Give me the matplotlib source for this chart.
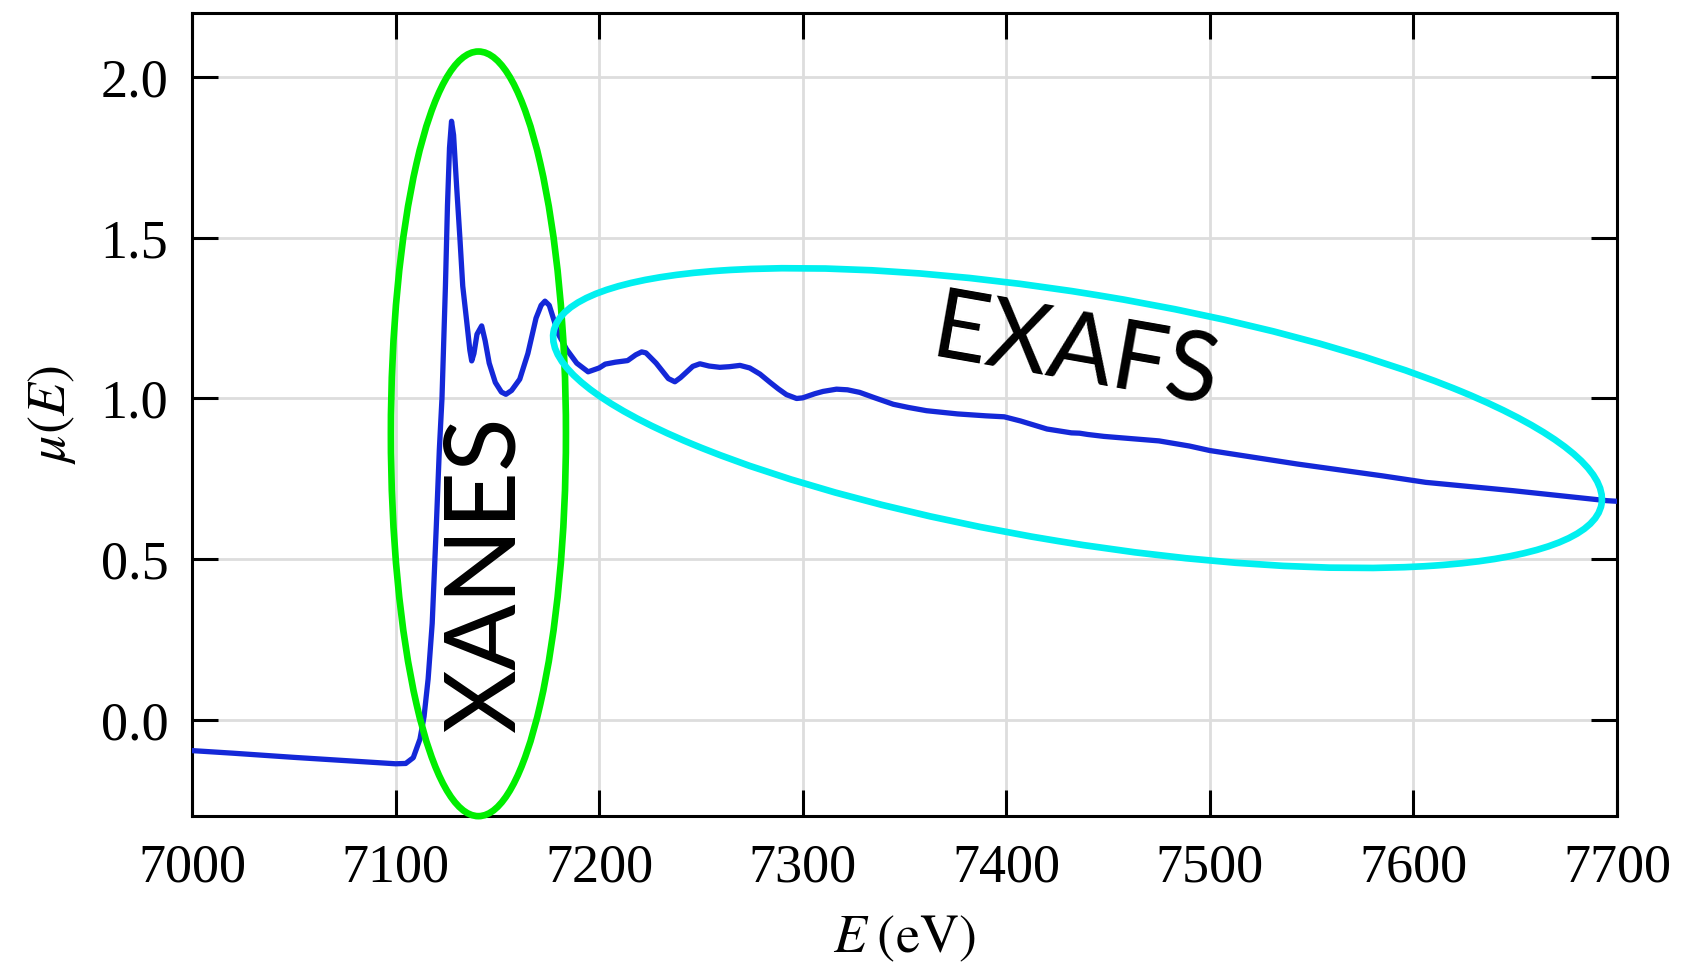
import matplotlib
matplotlib.use("Agg")
import matplotlib.pyplot as plt
from matplotlib.patches import Ellipse
from matplotlib.transforms import IdentityTransform

# XAS spectrum (energy in eV, absorption mu(E))
energy = [7000, 7020, 7050, 7080, 7100, 7105, 7108.7, 7112, 7114, 7116,
          7118, 7120, 7121.5, 7122.8, 7124.5, 7125.5, 7126.5, 7127.5, 7128.5, 7130,
          7131.6, 7133, 7135, 7136.5, 7137.4, 7138.5, 7140, 7142.3, 7144, 7146,
          7149, 7152, 7154.2, 7157, 7161, 7165, 7169, 7171.5, 7173.4, 7175.5,
          7177, 7180, 7184, 7189, 7194.6, 7200, 7203, 7208, 7214, 7218,
          7220.9, 7223, 7228, 7234, 7237.2, 7240, 7246, 7249.5, 7254, 7259.3,
          7264, 7269.2, 7274, 7279, 7284, 7288, 7292, 7297, 7300, 7306,
          7310, 7316.6, 7322, 7328, 7335, 7344.5, 7352, 7360.8, 7376, 7390,
          7399, 7407, 7420, 7432, 7436, 7440, 7448, 7475, 7490, 7500,
          7543, 7585, 7606, 7649, 7695, 7700]
mu = [-0.096, -0.104, -0.117, -0.129, -0.137, -0.136, -0.118, -0.06, 0.01, 0.127,
      0.30, 0.60, 0.84, 1.00, 1.35, 1.60, 1.78, 1.863, 1.82, 1.66,
      1.50, 1.35, 1.237, 1.15, 1.117, 1.14, 1.20, 1.226, 1.18, 1.11,
      1.05, 1.02, 1.013, 1.025, 1.06, 1.14, 1.25, 1.29, 1.303, 1.29,
      1.26, 1.20, 1.153, 1.11, 1.083, 1.095, 1.107, 1.113, 1.118, 1.136,
      1.145, 1.142, 1.11, 1.062, 1.052, 1.065, 1.10, 1.108, 1.101, 1.097,
      1.099, 1.103, 1.095, 1.076, 1.05, 1.03, 1.012, 1.00, 1.002, 1.015,
      1.022, 1.029, 1.027, 1.019, 1.003, 0.982, 0.972, 0.962, 0.952, 0.946,
      0.943, 0.930, 0.905, 0.893, 0.892, 0.888, 0.882, 0.868, 0.852, 0.838,
      0.796, 0.759, 0.739, 0.713, 0.682, 0.680]

x_ticks = [7000, 7100, 7200, 7300, 7400, 7500, 7600, 7700]
y_ticks = [0.0, 0.5, 1.0, 1.5, 2.0]

plt.rcParams['mathtext.fontset'] = 'stix'

fig = plt.figure(figsize=(16.9, 9.67), dpi=100)
ax = fig.add_axes([0.1136, 0.156, 0.8432, 0.8306])

ax.plot(energy, mu, color='#1428d8', lw=3.8, zorder=3,
        solid_joinstyle='round', solid_capstyle='round')

ax.set_xlim(7000, 7700)
ax.set_ylim(-0.3, 2.2)
ax.set_xticks(x_ticks)
ax.set_yticks(y_ticks)
ax.set_yticklabels([f"{v:.1f}" for v in y_ticks])
ax.grid(True, color='#dddddd', lw=2)
ax.set_axisbelow(True)

ax.tick_params(direction='in', length=19, width=2.2, top=True, right=True,
               labelsize=39)
ax.tick_params(axis='x', pad=19)
ax.tick_params(axis='y', pad=17)
for lab in ax.get_xticklabels() + ax.get_yticklabels():
    lab.set_family('Liberation Serif')
for s in ax.spines.values():
    s.set_linewidth(2.2)

ax.set_xlabel(r'$E\;(\mathrm{eV})$', fontsize=39, labelpad=14)
ax.set_ylabel(r'$\mu(E)$', fontsize=39, labelpad=16)

# XANES region
ax.add_patch(Ellipse((7140.7, 0.89), 86, 2.38, fill=False, ec='#00ee00',
                     lw=4.8, zorder=4, clip_on=False))
ax.text(7144.5, 0.452, 'XANES', rotation=90, ha='center', va='center',
        fontsize=71, family='Lato', zorder=5)

# EXAFS region (tilted ellipse, sized in pixels)
cx, cy = ax.transData.transform((7435, 0.939))
ax.add_patch(Ellipse((cx, cy), 1062, 249, angle=-9.3, fill=False, ec='#00f0f0',
                     lw=4.8, zorder=4, clip_on=False, transform=IdentityTransform()))
ax.text(7434, 1.14, 'EXAFS', rotation=-10, ha='center', va='center',
        fontsize=69, family='Lato', zorder=5, rotation_mode='anchor')

plt.savefig("out.png", dpi=100)
